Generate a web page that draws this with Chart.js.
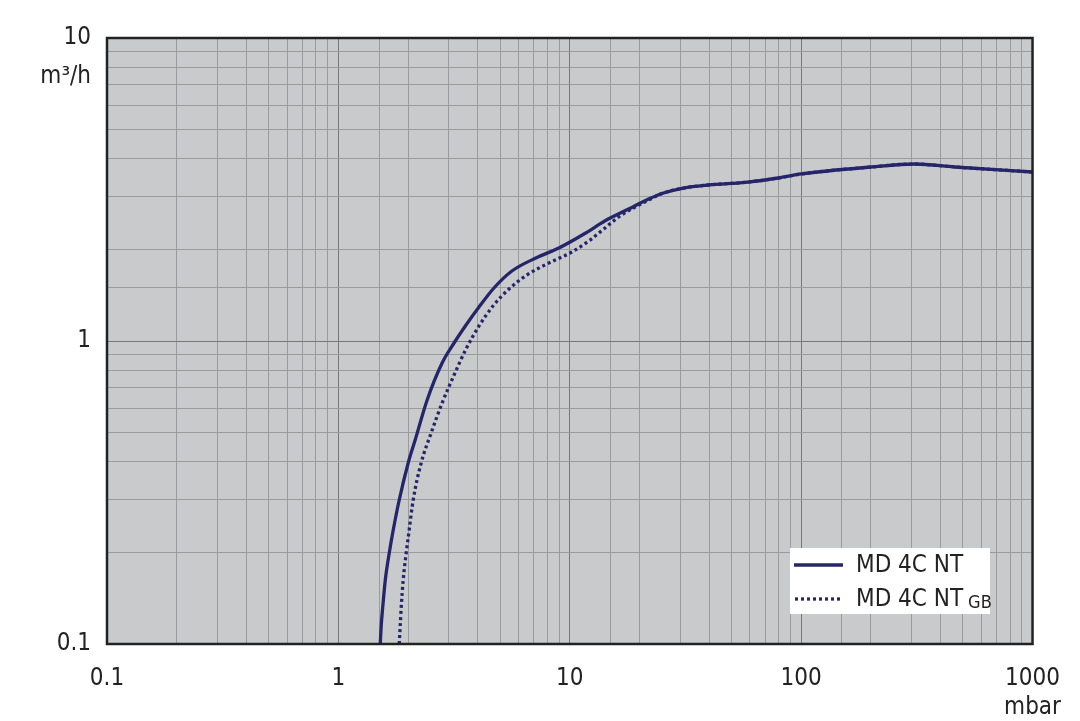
<!DOCTYPE html>
<html>
<head>
<meta charset="utf-8">
<script src="https://cdn.jsdelivr.net/npm/chart.js@4/dist/chart.umd.min.js"></script>
<style>
  html, body { margin: 0; padding: 0; background: #fff; }
  #wrap { width: 1080px; height: 721px; position: relative; }
</style>
</head>
<body>
<div id="wrap"><canvas id="courbe" width="1080" height="721"></canvas></div>
<script>
// pression (mbar) et débit (m³/h)
const pressionNT = [1.517, 1.532, 1.555, 1.595, 1.659, 1.726, 1.832, 2.003, 2.147, 2.419, 2.808, 3.162, 3.562, 4.053, 4.703, 5.623, 7.135, 8.966, 11.72, 14.16, 17.96, 21.91, 25.42, 31.0, 39.72, 59.09, 79.59, 100, 200.3, 309.9, 461.1, 1000];
const debitNT    = [0.1, 0.1155, 0.1325, 0.1627, 0.1997, 0.2378, 0.2987, 0.3958, 0.4713, 0.6388, 0.8459, 0.9849, 1.129, 1.295, 1.496, 1.702, 1.879, 2.027, 2.272, 2.489, 2.727, 2.942, 3.079, 3.198, 3.272, 3.347, 3.451, 3.558, 3.752, 3.838, 3.752, 3.612];

const pressionGB = [1.832, 1.851, 1.869, 1.906, 1.964, 2.023, 2.105, 2.279, 2.517, 2.808, 3.162, 3.562, 4.053, 4.657, 5.458, 6.526, 8.119, 10.2, 12.08, 14.02, 16.27, 21.91, 25.42, 31.0, 39.72, 59.09, 79.59, 100, 200.3, 309.9, 461.1, 1000];
const debitGB    = [0.1, 0.1155, 0.1325, 0.1627, 0.1997, 0.2378, 0.2987, 0.3958, 0.497, 0.6244, 0.7724, 0.941, 1.121, 1.305, 1.484, 1.651, 1.809, 1.966, 2.138, 2.342, 2.566, 2.92, 3.079, 3.198, 3.272, 3.347, 3.451, 3.558, 3.752, 3.838, 3.752, 3.612];

const ticksX = [0.1, 1, 10, 100, 1000];
const ticksY = [0.1, 1, 10];
const nomsSeries = ['MD 4C NT', 'MD 4C NT'];

const BLEU = '#25266a';
const POLICE = '"DejaVu Sans Condensed", "Liberation Sans Narrow", sans-serif';

function estDecade(v) {
    const l = Math.log10(v);
    return Math.abs(l - Math.round(l)) < 1e-6;
}

function etiquette(liste) {
    return function (value) {
        const v = Number(value);
        const t = liste.find(x => Math.abs(x - v) / x < 1e-6);
        return t === undefined ? '' : String(t);
    };
}

// fond gris de la zone de tracé
const fondGris = {
    id: 'fondGris',
    beforeDraw(chart) {
        const a = chart.chartArea;
        const ctx = chart.ctx;
        ctx.save();
        ctx.fillStyle = '#c9cacc';
        ctx.fillRect(a.left, a.top, a.right - a.left, a.bottom - a.top);
        ctx.restore();
    }
};

// cadre, unités et légende
const decor = {
    id: 'decor',
    afterDraw(chart) {
        const a = chart.chartArea;
        const ctx = chart.ctx;
        ctx.save();
        ctx.strokeStyle = '#222';
        ctx.lineWidth = 2.5;
        ctx.strokeRect(a.left, a.top, a.right - a.left, a.bottom - a.top);

        ctx.fillStyle = '#222';
        ctx.font = '24px ' + POLICE;
        ctx.textBaseline = 'middle';
        ctx.textAlign = 'right';
        ctx.fillText('m³/h', 91, 77);
        ctx.textAlign = 'center';
        ctx.fillText('mbar', a.right, 708);

        // légende
        const lx = 790, ly = 548, lw = 200, lh = 66;
        ctx.fillStyle = '#fff';
        ctx.fillRect(lx, ly, lw, lh);
        ctx.strokeStyle = BLEU;
        ctx.lineWidth = 3.3;
        ctx.beginPath();
        ctx.moveTo(794, 565);
        ctx.lineTo(843, 565);
        ctx.stroke();
        ctx.setLineDash([3, 3]);
        ctx.beginPath();
        ctx.moveTo(795, 599);
        ctx.lineTo(843, 599);
        ctx.stroke();
        ctx.setLineDash([]);

        ctx.fillStyle = '#222';
        ctx.textAlign = 'left';
        ctx.font = '24px ' + POLICE;
        ctx.fillText(nomsSeries[0], 856, 566);
        ctx.fillText(nomsSeries[1], 856, 600);
        const w = ctx.measureText(nomsSeries[1]).width;
        ctx.font = '18px ' + POLICE;
        ctx.fillText('GB', 856 + w + 5, 603);
        ctx.restore();
    }
};

const grille = {
    color: ctx => (ctx.tick && estDecade(ctx.tick.value)) ? '#77787b' : '#9a9b9e',
    lineWidth: 1,
    drawTicks: false
};

new Chart(document.getElementById('courbe'), {
    type: 'line',
    data: {
        datasets: [
            {
                label: nomsSeries[0],
                data: pressionNT.map((p, i) => ({ x: p, y: debitNT[i] })),
                borderColor: BLEU,
                borderWidth: 3.3,
                pointRadius: 0,
                cubicInterpolationMode: 'monotone'
            },
            {
                label: nomsSeries[1] + ' GB',
                data: pressionGB.map((p, i) => ({ x: p, y: debitGB[i] })),
                borderColor: BLEU,
                borderWidth: 3.3,
                borderDash: [3, 3],
                pointRadius: 0,
                cubicInterpolationMode: 'monotone'
            }
        ]
    },
    options: {
        responsive: false,
        animation: false,
        layout: { padding: { top: 38, right: 46, left: 0, bottom: 0 } },
        plugins: { legend: { display: false }, tooltip: { enabled: false } },
        scales: {
            x: {
                type: 'logarithmic',
                min: 0.1,
                max: 1000,
                grid: grille,
                border: { display: false },
                ticks: {
                    autoSkip: false,
                    maxRotation: 0,
                    padding: 20,
                    color: '#222',
                    font: { family: POLICE, size: 24 },
                    callback: etiquette(ticksX)
                },
                afterFit(scale) { scale.height = 721 - 644; }
            },
            y: {
                type: 'logarithmic',
                min: 0.1,
                max: 10,
                grid: grille,
                border: { display: false },
                ticks: {
                    autoSkip: false,
                    padding: 16,
                    color: '#222',
                    font: { family: POLICE, size: 24 },
                    callback: etiquette(ticksY)
                },
                afterFit(scale) { scale.width = 107; }
            }
        }
    },
    plugins: [fondGris, decor]
});
</script>
</body>
</html>
